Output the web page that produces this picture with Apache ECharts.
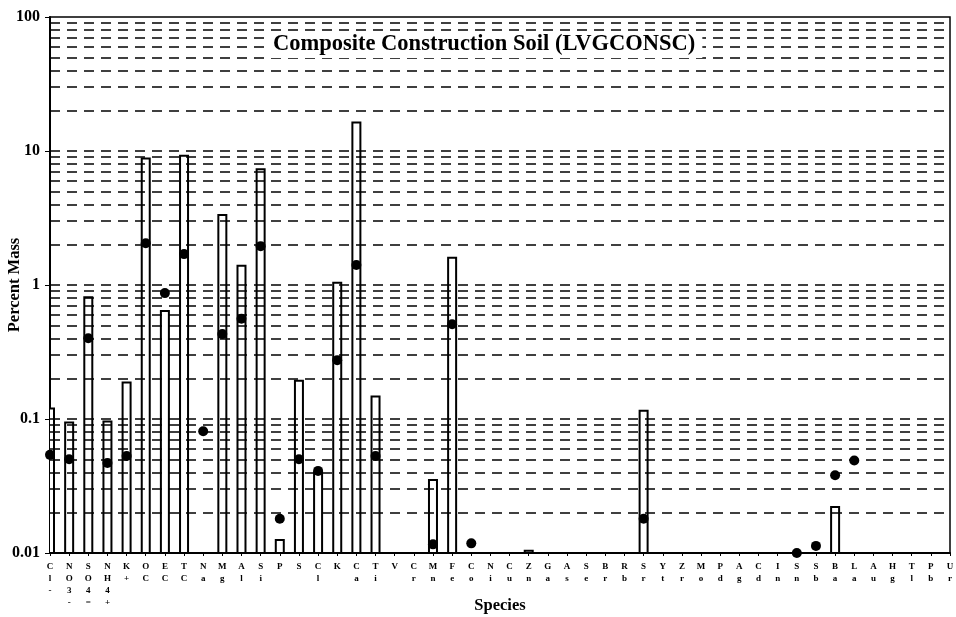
<!DOCTYPE html>
<html>
<head>
<meta charset="utf-8">
<script src="https://cdn.jsdelivr.net/npm/echarts@6/dist/echarts.min.js"></script>
<style>
  html, body { margin: 0; padding: 0; background: #fff; }
  #chart { width: 956px; height: 617px; }
</style>
</head>
<body>
<div id="chart"></div>
<script>
// species along the x axis
const species = ['Cl-', 'NO3-', 'SO4=', 'NH4+', 'K+', 'OC', 'EC', 'TC', 'Na', 'Mg', 'Al', 'Si', 'P', 'S', 'Cl', 'K',
  'Ca', 'Ti', 'V', 'Cr', 'Mn', 'Fe', 'Co', 'Ni', 'Cu', 'Zn', 'Ga', 'As', 'Se', 'Br', 'Rb', 'Sr',
  'Yt', 'Zr', 'Mo', 'Pd', 'Ag', 'Cd', 'In', 'Sn', 'Sb', 'Ba', 'La', 'Au', 'Hg', 'Tl', 'Pb', 'Ur'];

// bar heights (percent mass), null = no bar
const barMass = [0.12, 0.094, 0.81, 0.096, 0.187, 8.8, 0.64, 9.2, null, 3.33, 1.39, 7.3, 0.0125, 0.193, 0.040, 1.04,
  16.3, 0.147, null, null, 0.035, 1.6, null, null, null, 0.0104, null, null, null, null, null, 0.115,
  null, null, null, null, null, null, null, null, null, 0.022, null, null, null, null, null, null];

// dots (percent mass), null = no dot
const dotMass = [0.054, 0.050, 0.40, 0.047, 0.053, 2.05, 0.87, 1.70, 0.081, 0.43, 0.56, 1.95, 0.018, 0.050, 0.041, 0.275,
  1.41, 0.053, null, null, 0.0116, 0.51, 0.0118, null, null, null, null, null, null, null, null, 0.018,
  null, null, null, null, null, null, null, 0.01, 0.0113, 0.038, 0.049, null, null, null, null, null];

// dashed horizontal grid lines
const gridValues = [0.02, 0.03, 0.04, 0.05, 0.06, 0.07, 0.08, 0.09,
  0.1, 0.2, 0.3, 0.4, 0.5, 0.6, 0.7, 0.8, 0.9,
  1, 2, 3, 4, 5, 6, 7, 8, 9,
  10, 20, 30, 40, 50, 60, 70, 80, 90];

const serif = '"Liberation Serif", "Times New Roman", serif';

const barData = [];
barMass.forEach((v, i) => { if (v != null) barData.push([i, v]); });

const chart = echarts.init(document.getElementById('chart'));
chart.setOption({
  animation: false,
  title: {
    text: 'Composite Construction Soil (LVGCONSC)',
    left: 266,
    top: 31,
    padding: [2, 7],
    backgroundColor: '#fff',
    textStyle: { fontFamily: serif, fontWeight: 'bold', fontSize: 22.5, color: '#000' }
  },
  grid: {
    left: 50, right: 6, top: 17, bottom: 64,
    outerBoundsMode: 'none',
    containLabel: false,
    show: true, borderColor: '#000', borderWidth: 1.5, backgroundColor: 'transparent'
  },
  xAxis: {
    type: 'category',
    data: species,
    boundaryGap: false,
    name: 'Species',
    nameLocation: 'middle',
    nameGap: 44,
    nameMoveOverlap: false,
    nameTextStyle: { fontFamily: serif, fontWeight: 'bold', fontSize: 16.5, color: '#000' },
    axisLine: { lineStyle: { color: '#000', width: 2 } },
    axisTick: { alignWithLabel: true, length: 3, lineStyle: { color: '#000' } },
    axisLabel: {
      interval: 0,
      margin: 8,
      fontFamily: serif,
      fontWeight: 'bold',
      fontSize: 9,
      lineHeight: 12,
      color: '#000',
      formatter: s => s.split('').join('\n')
    },
    splitLine: { show: false }
  },
  yAxis: {
    type: 'log',
    logBase: 10,
    min: 0.01,
    max: 100,
    name: 'Percent Mass',
    nameLocation: 'middle',
    nameGap: 27,
    nameMoveOverlap: false,
    nameTextStyle: { fontFamily: serif, fontWeight: 'bold', fontSize: 16.5, color: '#000' },
    axisLine: { show: true, lineStyle: { color: '#000', width: 2 } },
    axisTick: { show: true, length: 5, lineStyle: { color: '#000' } },
    axisLabel: { fontFamily: serif, fontWeight: 'bold', fontSize: 16, color: '#000', margin: 10 },
    splitLine: { show: false }
  },
  series: [
    {
      // carrier for the dashed grid lines
      type: 'line',
      data: [],
      z: 1,
      markLine: {
        silent: true,
        symbol: 'none',
        label: { show: false },
        lineStyle: { color: '#000', type: [10, 7], width: 1.5 },
        data: gridValues.map(v => ({ yAxis: v }))
      }
    },
    {
      type: 'custom',
      z: 2,
      clip: true,
      data: barData,
      encode: { x: 0, y: 1 },
      renderItem: function (params, api) {
        const top = api.coord([api.value(0), api.value(1)]);
        const base = api.coord([api.value(0), 0.01]);
        const w = 8;
        return {
          type: 'rect',
          shape: { x: top[0] - w / 2, y: top[1], width: w, height: base[1] - top[1] },
          style: { fill: '#fff', stroke: '#000', lineWidth: 2 }
        };
      }
    },
    {
      type: 'scatter',
      z: 3,
      symbol: 'circle',
      symbolSize: 10,
      itemStyle: { color: '#000', opacity: 1 },
      data: dotMass.map(v => (v == null ? '-' : v))
    }
  ]
});
</script>
</body>
</html>
